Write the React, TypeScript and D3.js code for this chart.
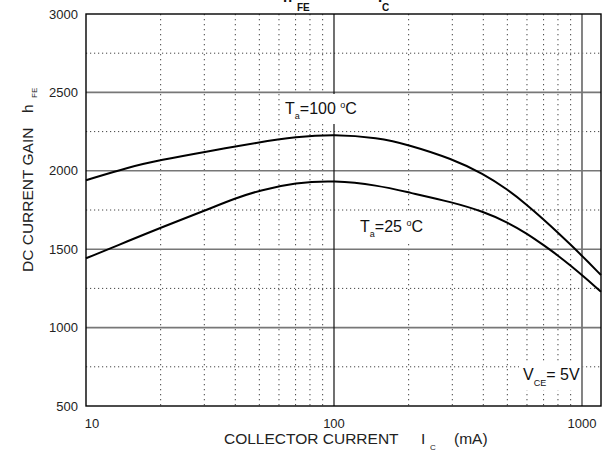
import React from "react";
import * as d3 from "d3";

const yTicks = [500, 1000, 1500, 2000, 2500, 3000];
const xTickValues = [10, 100, 1000];
const xTickLabels = ["10", "100", "1000"];
const solidH = [1000, 1500, 2000, 2500];
const dottedH = [750, 1250, 1750, 2250, 2750];
const dottedV = [20, 30, 40, 50, 60, 70, 80, 90, 200, 300, 400, 500, 600, 700, 800, 900];

const current100 = [10, 15, 20, 30, 50, 70, 100, 150, 200, 300, 400, 500, 600, 700, 800, 900, 1000, 1193];
const gain100 = [1940, 2025, 2069, 2120, 2182, 2216, 2234, 2211, 2166, 2076, 1981, 1882, 1783, 1690, 1606, 1529, 1458, 1335];

const current25 = [10, 15, 20, 30, 40, 50, 70, 100, 150, 200, 300, 400, 500, 600, 700, 800, 900, 1000, 1193];
const gain25 = [1442, 1556, 1637, 1745, 1825, 1875, 1924, 1939, 1908, 1862, 1800, 1740, 1672, 1600, 1526, 1460, 1395, 1335, 1229];

const W = 604;
const H = 452;
const L = 86, R = 601, T = 14, B = 406;
const FONT = "'Liberation Sans', Arial, sans-serif";

export default function App() {
  const x = d3.scaleLog().domain([10, 1193]).range([L, R]);
  const y = d3.scaleLinear().domain([500, 3000]).range([B, T]);
  const line = d3
    .line<[number, number]>()
    .x((d) => x(d[0]))
    .y((d) => y(d[1]))
    .curve(d3.curveBasis);
  const p100 = line(current100.map((c, i) => [c, gain100[i]] as [number, number])) || "";
  const p25 = line(current25.map((c, i) => [c, gain25[i]] as [number, number])) || "";

  return (
    <svg
      width={W}
      height={H}
      style={{ position: "absolute", left: 0, top: 0, background: "#fff" }}
      fontFamily={FONT}
    >
      <rect x={0} y={0} width={W} height={H} fill="#fff" />
      {/* dotted grid */}
      {dottedV.map((v) => (
        <line key={"dv" + v} x1={x(v)} x2={x(v)} y1={T} y2={B} stroke="#444" strokeWidth={1} strokeDasharray="1.3 3.7" />
      ))}
      {dottedH.map((v) => (
        <line key={"dh" + v} x1={L} x2={R} y1={y(v)} y2={y(v)} stroke="#444" strokeWidth={1} strokeDasharray="1.2 2.8" />
      ))}
      {/* solid grid */}
      {solidH.map((v) => (
        <line key={"sh" + v} x1={L} x2={R} y1={y(v)} y2={y(v)} stroke="#777" strokeWidth={1.6} />
      ))}
      <line x1={x(100)} x2={x(100)} y1={T} y2={B} stroke="#111" strokeWidth={1.2} />
      <line x1={x(1000)} x2={x(1000)} y1={T} y2={B} stroke="#777" strokeWidth={1.8} />

      {/* curves */}
      <path d={p100} fill="none" stroke="#000" strokeWidth={2} />
      <path d={p25} fill="none" stroke="#000" strokeWidth={2} />

      {/* label backgrounds */}
      <rect x={283} y={94} width={79} height={30} fill="#fff" />
      <rect x={357} y={214} width={69} height={30} fill="#fff" />
      <rect x={519} y={361} width={61} height={29} fill="#fff" />

      {/* labels */}
      <text x={285} y={114} fontSize={16} fill="#111">
        T<tspan fontSize={9} dy={5}>a</tspan>
        <tspan dy={-5}>=100 </tspan>
        <tspan fontSize={9} dy={-6}>o</tspan>
        <tspan dy={6}>C</tspan>
      </text>
      <text x={360} y={232} fontSize={16} fill="#111">
        T<tspan fontSize={9} dy={5}>a</tspan>
        <tspan dy={-5}>=25 </tspan>
        <tspan fontSize={9} dy={-6}>o</tspan>
        <tspan dy={6}>C</tspan>
      </text>
      <text x={523} y={380} fontSize={16} fill="#111">
        V<tspan fontSize={9} dy={6}>CE</tspan>
        <tspan dy={-6}>= 5V</tspan>
      </text>

      {/* frame */}
      <rect x={L} y={T} width={R - L} height={B - T} fill="none" stroke="#000" strokeWidth={1.4} />

      {/* y ticks */}
      {yTicks.map((v) => (
        <text key={"yt" + v} x={78} y={y(v) + 4.5} fontSize={13} textAnchor="end" fill="#222">
          {v}
        </text>
      ))}
      {/* x ticks */}
      {xTickValues.map((v, i) => (
        <text
          key={"xt" + v}
          x={i === 0 ? x(v) + 6 : x(v)}
          y={428}
          fontSize={13}
          textAnchor="middle"
          fill="#222"
        >
          {xTickLabels[i]}
        </text>
      ))}

      {/* axis titles */}
      <text x={224} y={444} fontSize={15.5} fill="#222">COLLECTOR CURRENT</text>
      <text x={421} y={444} fontSize={15.5} fill="#222">I</text>
      <text x={430} y={450} fontSize={8} fill="#222">C</text>
      <text x={454} y={444} fontSize={15.5} fill="#222">(mA)</text>

      <text transform="translate(33,272) rotate(-90)" fontSize={15.5} fill="#222">DC CURRENT GAIN</text>
      <text transform="translate(33,113) rotate(-90)" fontSize={15.5} fill="#222">h</text>
      <text transform="translate(37,98) rotate(-90)" fontSize={8} fill="#222">FE</text>

      {/* title, clipped at the top edge as in the source */}
      <text x={283} y={2} fontSize={15} fontWeight="bold" fill="#111">h</text>
      <text x={297} y={10.5} fontSize={10} fontWeight="bold" fill="#111">FE</text>
      <text x={378} y={1.5} fontSize={15} fontWeight="bold" fill="#111">I</text>
      <text x={382} y={10.5} fontSize={10} fontWeight="bold" fill="#111">C</text>
    </svg>
  );
}
